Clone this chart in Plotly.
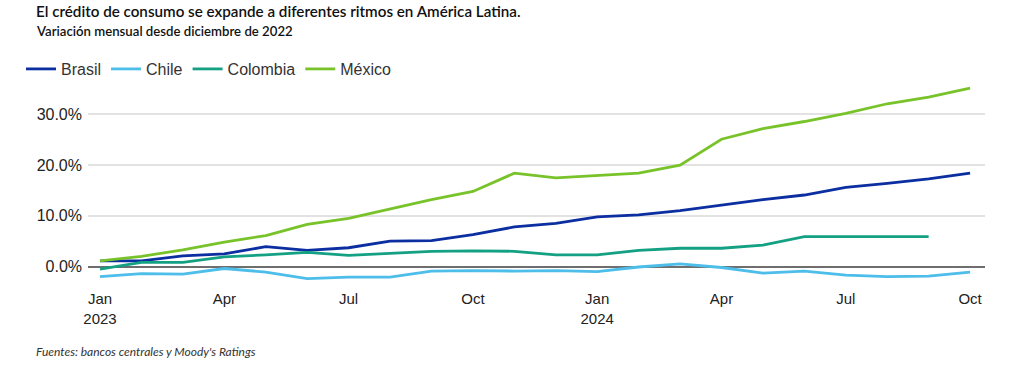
import plotly.graph_objects as go

months = ["Jan 2023", "Feb 2023", "Mar 2023", "Apr 2023", "May 2023", "Jun 2023",
          "Jul 2023", "Aug 2023", "Sep 2023", "Oct 2023", "Nov 2023", "Dec 2023",
          "Jan 2024", "Feb 2024", "Mar 2024", "Apr 2024", "May 2024", "Jun 2024",
          "Jul 2024", "Aug 2024", "Sep 2024", "Oct 2024"]

brasil = [1.1, 1.1, 2.1, 2.5, 3.9, 3.2, 3.7, 5.0, 5.1, 6.3, 7.8, 8.5,
          9.8, 10.2, 11.0, 12.1, 13.2, 14.1, 15.6, 16.4, 17.3, 18.4]
chile = [-2.0, -1.4, -1.5, -0.4, -1.1, -2.4, -2.1, -2.1, -0.9, -0.8, -0.9, -0.8,
         -1.0, -0.1, 0.5, -0.2, -1.3, -0.9, -1.7, -2.0, -1.9, -1.1]
colombia = [-0.5, 0.8, 0.8, 1.9, 2.3, 2.8, 2.2, 2.6, 3.0, 3.1, 3.0, 2.3,
            2.3, 3.2, 3.6, 3.6, 4.2, 5.9, 5.9, 5.8, 5.9, None]
mexico = [1.1, 2.0, 3.3, 4.8, 6.1, 8.3, 9.5, 11.3, 13.2, 14.8, 18.4, 17.5,
          17.9, 18.4, 20.0, 25.1, 27.2, 28.6, 30.2, 32.1, 33.4, 35.2]

tick_months = ["Jan 2023", "Apr 2023", "Jul 2023", "Oct 2023",
               "Jan 2024", "Apr 2024", "Jul 2024", "Oct 2024"]
tick_labels = ["Jan<br>2023", "Apr", "Jul", "Oct", "Jan<br>2024", "Apr", "Jul", "Oct"]
y_ticks = [0, 10, 20, 30]
y_tick_labels = ["0.0%", "10.0%", "20.0%", "30.0%"]

series = [("Brasil", brasil, "#0b2ea0"),
          ("Chile", chile, "#4dbde9"),
          ("Colombia", colombia, "#14a083"),
          ("México", mexico, "#79c32a")]

W, H = 1024, 365
L, R, T, B = 88, 39, 80, 80
PW, PH = W - L - R, H - T - B

def px(x):
    return (x - L) / PW

def py(y):
    return (H - B - y) / PH

fig = go.Figure()
for name, vals, col in series:
    fig.add_trace(go.Scatter(
        x=months, y=vals, name=name, mode="lines",
        line=dict(color=col, width=2.8), connectgaps=False,
    ))

ppu = 5.07
zero_px = 266.5
ymin = -(H - B - zero_px) / ppu
ymax = (zero_px - T) / ppu

fig.update_layout(
    width=W, height=H,
    margin=dict(l=L, r=R, t=T, b=B, autoexpand=False),
    paper_bgcolor="white", plot_bgcolor="white",
    font=dict(family="Liberation Sans, Arial, sans-serif", color="#222"),
    showlegend=True,
    legend=dict(orientation="h", xref="paper", yref="paper",
                x=px(21), y=py(52), xanchor="left", yanchor="top",
                font=dict(size=16, color="#333"), itemwidth=30,
                tracegroupgap=0, bgcolor="rgba(0,0,0,0)"),
    xaxis=dict(type="category", range=[-0.29, 21.36],
               tickmode="array", tickvals=tick_months, ticktext=tick_labels,
               showgrid=False, zeroline=False, showline=False, ticks="",
               ticklabelstandoff=3,
               tickfont=dict(size=15, family="Liberation Sans Narrow, Liberation Sans, sans-serif", color="#222")),
    yaxis=dict(range=[ymin, ymax],
               tickmode="array", tickvals=y_ticks, ticktext=y_tick_labels,
               showgrid=True, gridcolor="#e2e2e2", gridwidth=1.5,
               zeroline=True, zerolinecolor="#6e6e6e", zerolinewidth=1.5,
               showline=False, ticks="", ticklabelstandoff=5,
               tickfont=dict(size=16, color="#222")),
)

fig.add_annotation(xref="paper", yref="paper", x=px(35), y=py(11), xanchor="left", yanchor="middle",
                   borderpad=0,
                   text="El crédito de consumo se expande a diferentes ritmos en América Latina.",
                   showarrow=False, font=dict(family="Lato, sans-serif", size=15.2, weight=600, color="#111"))
fig.add_annotation(xref="paper", yref="paper", x=px(35), y=py(30.5), xanchor="left", yanchor="middle",
                   borderpad=0,
                   text="Variación mensual desde diciembre de 2022",
                   showarrow=False, font=dict(family="Lato, sans-serif", size=13.2, weight=600, color="#111"))
fig.add_annotation(xref="paper", yref="paper", x=px(35), y=py(351), xanchor="left", yanchor="middle",
                   borderpad=0,
                   text="<i>Fuentes: bancos centrales y Moody's Ratings</i>",
                   showarrow=False, font=dict(family="Lato, sans-serif", size=12, color="#333"))

fig.write_html("out.html", config={"displayModeBar": False},
               post_script="document.body.style.margin='0';")
